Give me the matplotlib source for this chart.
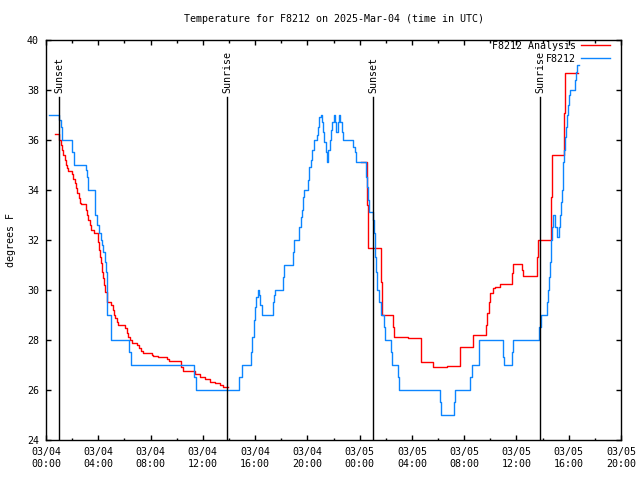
import pandas as pd
import matplotlib
matplotlib.use('Agg')
import matplotlib.pyplot as plt
import matplotlib.dates as mdates

# hours after 2025-03-04 00:00 UTC, temperature in F
obs_hours = [0.23, 1.02, 1.12, 1.22, 2.01, 2.14, 3.04, 3.14, 3.24, 3.77, 3.90, 4.06, 4.21, 4.31,
             4.38, 4.49, 4.59, 4.64, 4.69, 4.95, 6.37, 6.48, 11.35, 11.46, 14.79, 15.00, 15.69,
             15.79, 15.89, 15.99, 16.09, 16.20, 16.30, 16.40, 16.51, 17.35, 17.45, 17.55, 18.14,
             18.24, 18.88, 18.98, 19.38, 19.49, 19.59, 19.64, 19.74, 20.07, 20.15, 20.26, 20.38,
             20.51, 20.71, 20.81, 20.91, 21.02, 21.10, 21.20, 21.30, 21.40, 21.50, 21.60, 21.71,
             21.81, 21.91, 22.02, 22.12, 22.22, 22.32, 22.42, 22.52, 22.63, 22.73, 23.52, 23.62,
             23.72, 24.49, 24.54, 24.62, 24.69, 25.05, 25.10, 25.18, 25.26, 25.35, 25.48, 25.61,
             25.84, 25.92, 26.42, 26.50, 26.94, 26.99, 30.13, 30.20, 31.22, 31.27, 32.47, 32.60,
             33.11, 33.16, 34.97, 35.07, 35.64, 35.71, 37.75, 37.86, 38.31, 38.39, 38.47, 38.54,
             38.62, 38.67, 38.72, 38.77, 38.97, 39.13, 39.28, 39.36, 39.43, 39.49, 39.54, 39.59,
             39.64, 39.69, 39.77, 39.85, 39.92, 40.02, 40.10, 40.46, 40.53, 40.61, 40.81]
obs_temps = [37.0, 36.8, 36.5, 36.0, 35.5, 35.0, 34.8, 34.5, 34.0, 33.0, 32.6, 32.3, 32.0, 31.8,
             31.5, 31.1, 30.7, 30.3, 29.0, 28.0, 27.5, 27.0, 26.5, 26.0, 26.5, 27.0, 27.5,
             28.1, 28.8, 29.3, 29.7, 30.0, 29.8, 29.4, 29.0, 29.5, 29.8, 30.0, 30.5,
             31.0, 31.5, 32.0, 32.5, 32.9, 33.2, 33.7, 34.0, 34.4, 34.9, 35.2, 35.6,
             36.0, 36.2, 36.5, 36.9, 37.0, 36.7, 36.3, 35.9, 35.5, 35.1, 35.6, 36.0,
             36.4, 36.7, 37.0, 36.7, 36.3, 36.7, 37.0, 36.7, 36.3, 36.0, 35.7, 35.5,
             35.1, 34.5, 34.1, 33.6, 33.1, 32.8, 32.3, 31.3, 30.7, 30.0, 29.5, 29.0,
             28.5, 28.0, 27.5, 27.0, 26.5, 26.0, 25.5, 25.0, 25.5, 26.0, 26.5, 27.0,
             27.5, 28.0, 27.3, 27.0, 27.5, 28.0, 28.5, 29.0, 29.5, 30.0, 30.5, 31.1,
             31.6, 32.0, 32.5, 33.0, 32.5, 32.1, 32.5, 33.0, 33.5, 34.0, 34.5, 35.1,
             35.6, 36.1, 36.5, 37.0, 37.4, 37.8, 38.0, 38.4, 38.7, 39.0, 39.0]

ana1_hours = [0.69, 1.02, 1.12, 1.22, 1.33, 1.43, 1.53, 1.63, 1.71, 2.01, 2.09, 2.19, 2.30, 2.40,
              2.50, 2.60, 2.70, 3.04, 3.14, 3.24, 3.34, 3.44, 3.65, 3.98, 4.06, 4.16, 4.24, 4.31,
              4.39, 4.46, 4.54, 4.64, 4.99, 5.10, 5.20, 5.31, 5.41, 5.54, 6.05, 6.17, 6.30, 6.43,
              6.56, 6.99, 7.14, 7.29, 7.45, 8.09, 8.21, 8.60, 9.24, 9.44, 10.33, 10.51, 11.40,
              11.78, 12.17, 12.55, 12.93, 13.31, 13.57, 13.95]
ana1_temps = [36.24, 36.0, 35.8, 35.6, 35.4, 35.2, 35.0, 34.87, 34.77, 34.64, 34.45, 34.27, 34.07, 33.87,
              33.67, 33.47, 33.44, 33.2, 33.0, 32.8, 32.6, 32.4, 32.27, 31.93, 31.6, 31.33, 31.07, 30.73,
              30.47, 30.2, 29.93, 29.53, 29.4, 29.2, 29.0, 28.87, 28.73, 28.6, 28.47, 28.27, 28.13, 28.0,
              27.89, 27.8, 27.69, 27.56, 27.47, 27.4, 27.35, 27.31, 27.24, 27.17, 26.93, 26.76, 26.64,
              26.53, 26.43, 26.33, 26.27, 26.2, 26.13, 26.13]

ana2_hours = [24.10, 24.59, 24.66, 25.61, 25.69, 26.58, 26.65, 27.68, 28.72, 29.64, 30.71, 31.68,
              32.65, 33.67, 33.72, 33.92, 33.97, 34.23, 34.36, 34.74, 35.66, 35.71, 36.42, 36.52,
              37.60, 37.65, 38.62, 38.70, 39.62, 39.69, 40.69]
ana2_temps = [35.13, 33.4, 31.67, 30.33, 29.0, 28.53, 28.13, 28.07, 27.13, 26.93, 26.96, 27.73,
              28.2, 28.6, 29.07, 29.53, 29.87, 30.07, 30.13, 30.24, 30.67, 31.03, 30.8, 30.57,
              31.33, 32.0, 33.73, 35.4, 37.07, 38.67, 38.67]

sun_hours = [1.02, 13.88, 25.05, 37.83]
sun_labels = ['Sunset', 'Sunrise', 'Sunset', 'Sunrise']

base = pd.Timestamp('2025-03-04 00:00')
def to_time(h):
    return base + pd.to_timedelta(h, unit='h')

mono = 'DejaVu Sans Mono'
plt.rcParams['font.family'] = mono
plt.rcParams['font.size'] = 7.2

fig = plt.figure(figsize=(6.4, 4.8), dpi=100)
ax = fig.add_axes([46 / 640, 40 / 480, 575 / 640, 400 / 480])

ax.plot(to_time(ana1_hours), ana1_temps, drawstyle='steps-post', color='#ff0000', lw=1.0,
        label='F8212 Analysis')
ax.plot(to_time(ana2_hours), ana2_temps, drawstyle='steps-post', color='#ff0000', lw=1.0)
ax.plot(to_time(obs_hours), obs_temps, drawstyle='steps-post', color='#0c85ff', lw=1.0,
        label='F8212')

for h, lab in zip(sun_hours, sun_labels):
    t = to_time(h)
    ax.axvline(t, ymin=0, ymax=0.8575, color='black', lw=1.0)
    ax.text(t, 0.868, lab, rotation=90, ha='center', va='bottom',
            transform=ax.get_xaxis_transform())

ax.set_xlim(base, to_time(44))
ax.set_ylim(24, 40)
ax.set_yticks(range(24, 41, 2))
ax.xaxis.set_major_locator(mdates.HourLocator(byhour=[0, 4, 8, 12, 16, 20]))
ax.xaxis.set_minor_locator(mdates.HourLocator(byhour=range(0, 24, 2)))
ax.xaxis.set_major_formatter(mdates.DateFormatter('%m/%d\n%H:%M'))

ax.tick_params(which='both', direction='in', top=True, right=True, width=1)
ax.tick_params(which='major', length=3.5)
ax.tick_params(which='minor', length=1.8)
ax.tick_params(axis='x', pad=5)
ax.tick_params(axis='y', pad=5)
for s in ax.spines.values():
    s.set_linewidth(1)

ax.set_ylabel('degrees F', labelpad=8)
ax.set_title('Temperature for F8212 on 2025-Mar-04 (time in UTC)', pad=13, fontsize=7.2)

ax.legend(loc='upper right', bbox_to_anchor=(0.981, 0.998), frameon=False, markerfirst=False,
          handlelength=2.9, handletextpad=0.5, labelspacing=0.3, borderpad=0, borderaxespad=0)

fig.savefig('out.png', dpi=100)
